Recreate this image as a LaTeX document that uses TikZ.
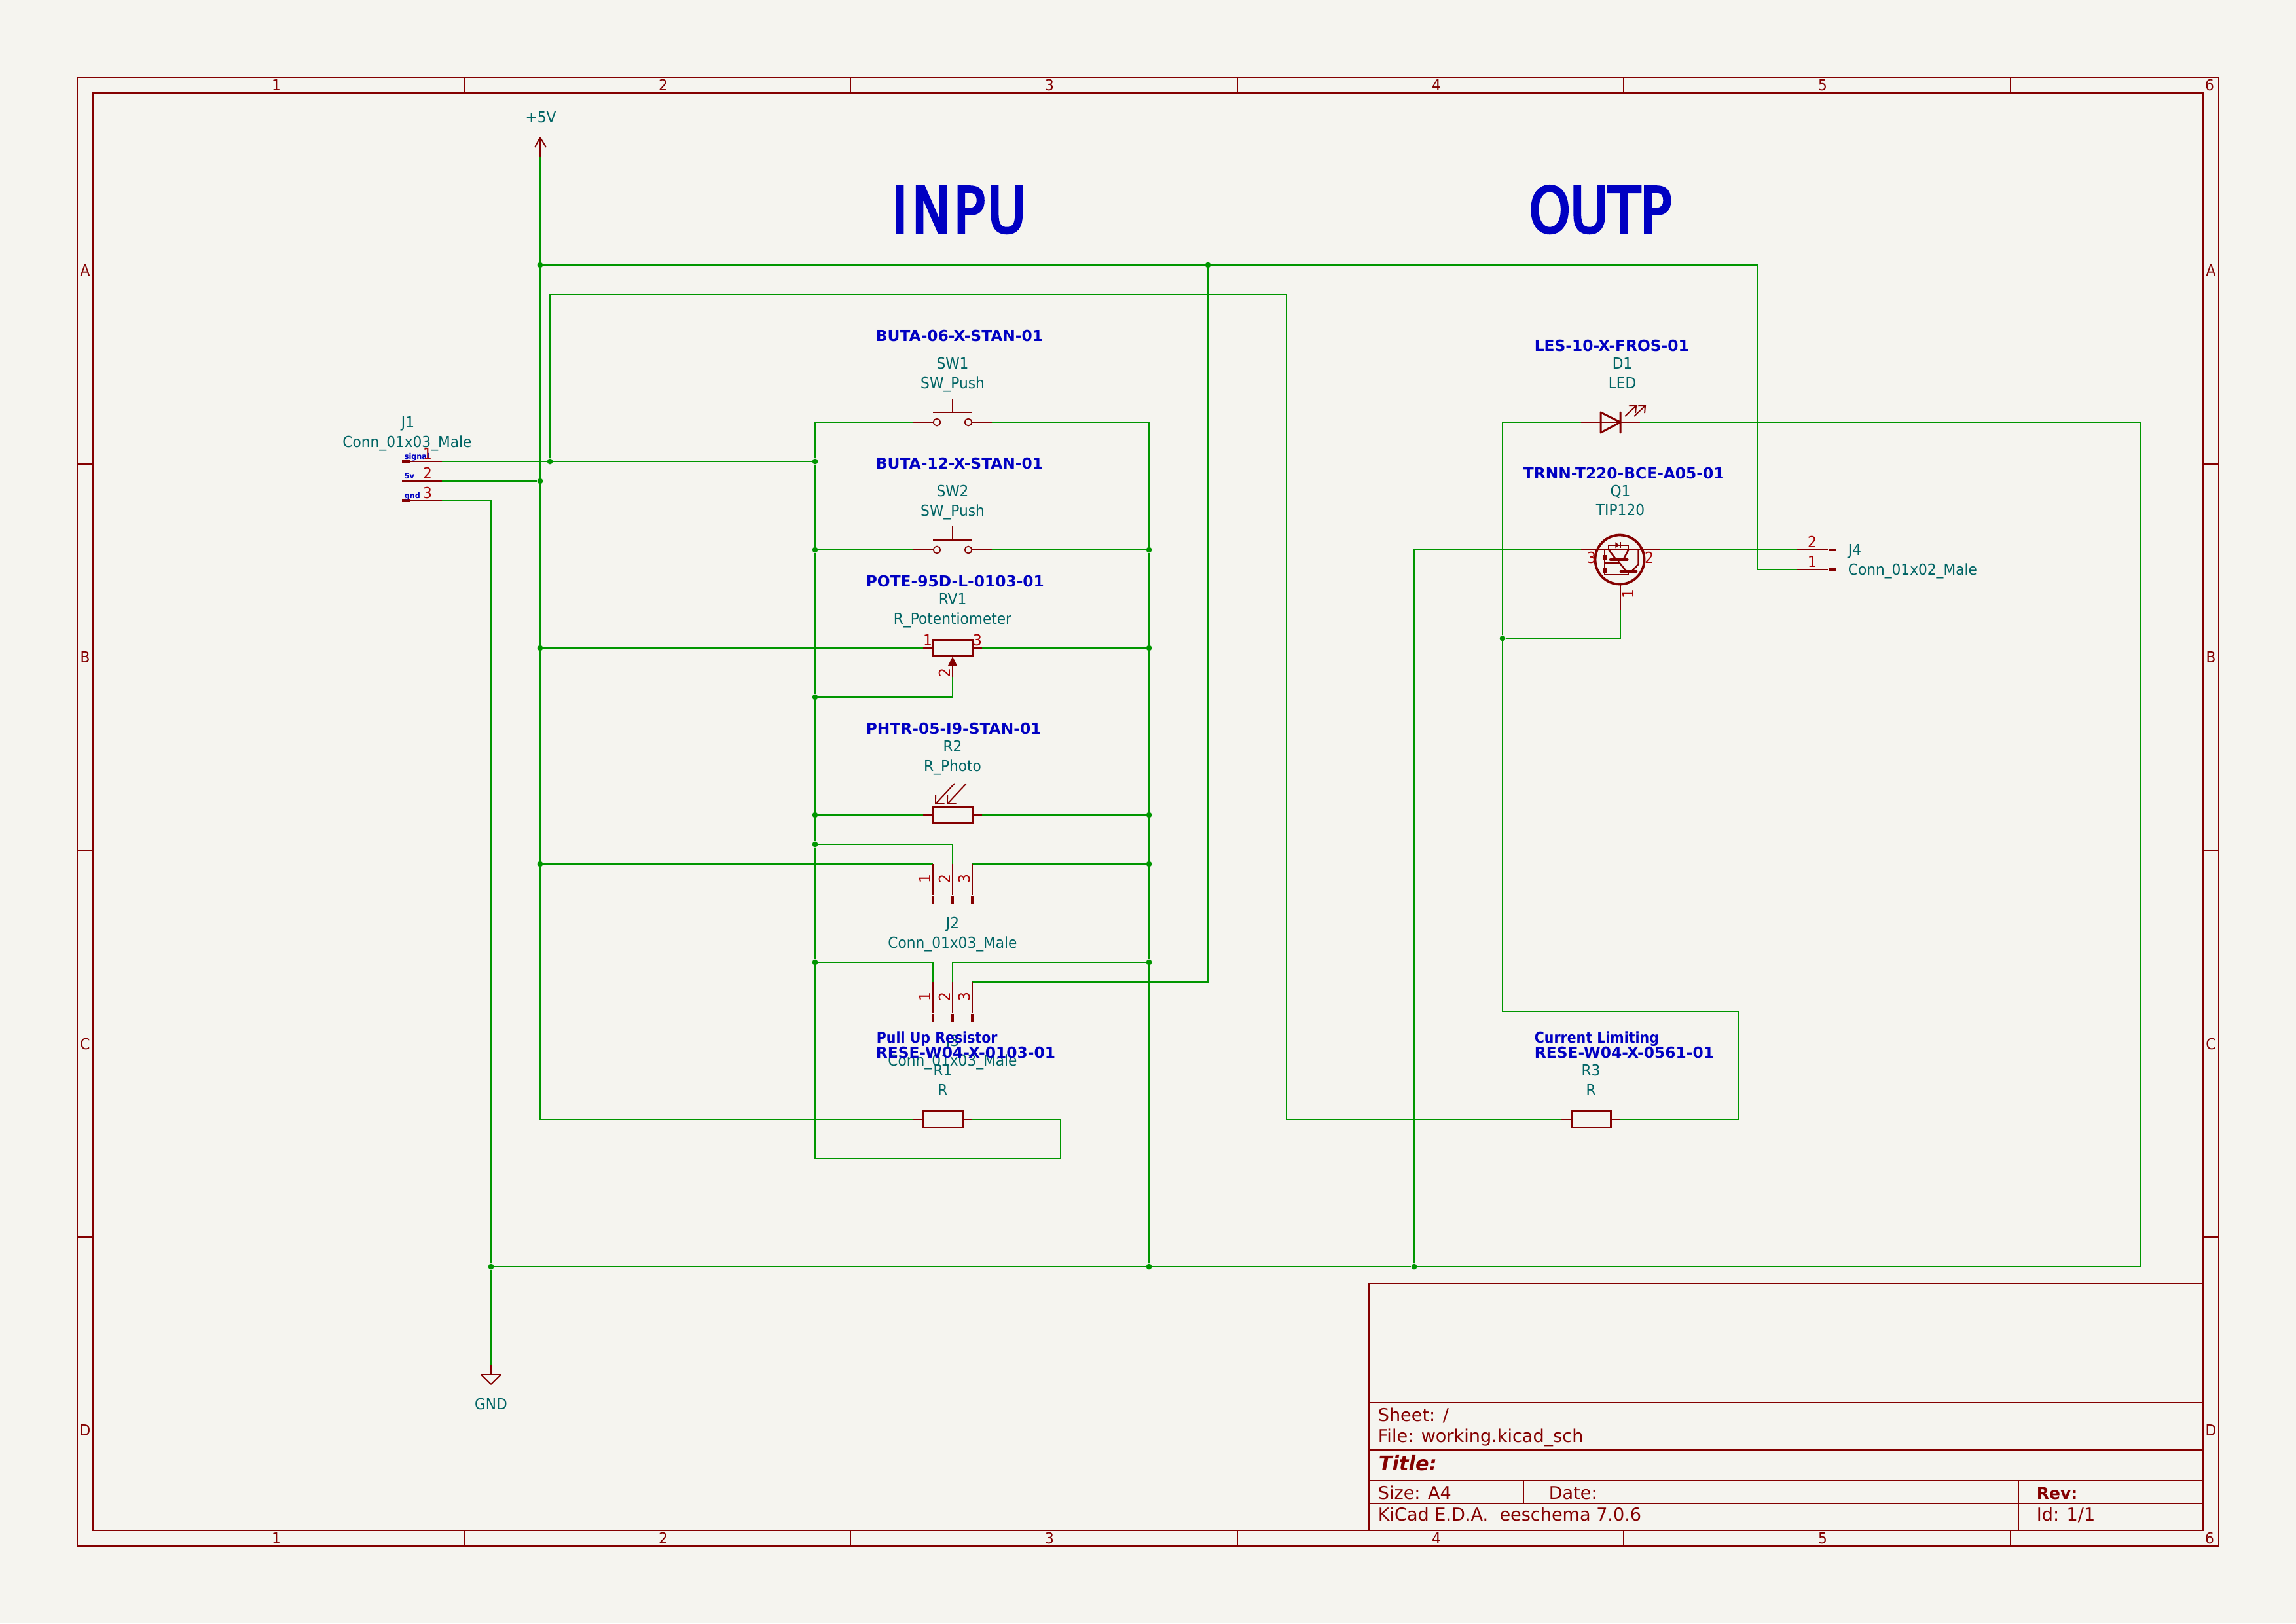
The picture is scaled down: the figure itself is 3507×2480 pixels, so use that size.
\documentclass[tikz,border=0pt]{standalone}
\usepackage{fontspec}
\setmainfont{DejaVu Sans}
\newfontfamily\reffont[FakeStretch=0.93]{DejaVu Sans}
\newfontfamily\notefont[FakeStretch=0.88]{DejaVu Sans}
\newfontfamily\headfont[FakeStretch=0.83,FakeBold=4]{DejaVu Sans}
\usepackage{xcolor}
\usetikzlibrary{arrows.meta, positioning}
\definecolor{sheetcol}{HTML}{F5F4EF}
\definecolor{wirecol}{HTML}{009600}
\definecolor{symbcol}{HTML}{840000}
\definecolor{pinnumcol}{HTML}{A90000}
\definecolor{refcol}{HTML}{006464}
\definecolor{notecol}{HTML}{0000C2}
\tikzset{
    wire/.style={draw=wirecol, line width=0.62pt},
    pinline/.style={draw=symbcol, line width=0.45pt},
    symb/.style={draw=symbcol, line width=0.72pt, line join=round, line cap=round},
    symbthin/.style={draw=symbcol, line width=0.45pt, line join=round},
    frameline/.style={draw=symbcol, line width=0.6pt},
    framethin/.style={draw=symbcol, line width=0.4pt},
    dot/.style={circle, fill=wirecol, inner sep=0pt, minimum size=2.1pt},
    resbox/.style={draw=symbcol, line width=0.72pt, fill=sheetcol, inner sep=0pt, minimum width=14.4pt, minimum height=5.9pt},
    swdot/.style={circle, draw=symbcol, line width=0.42pt, inner sep=0pt, minimum size=2.6pt},
    hbody/.style={fill=symbcol, inner sep=0pt, minimum width=2.8pt, minimum height=1.1pt},
    vbody/.style={fill=symbcol, inner sep=0pt, minimum width=1.1pt, minimum height=2.8pt},
    reflbl/.style={text=refcol, inner sep=0pt, text height=4pt, text depth=0pt, font=\fontsize{5.6}{6}\reffont},
    fieldlbl/.style={text=notecol, inner sep=0pt, anchor=west, text height=4pt, text depth=0pt, font=\fontsize{5.6}{6}\selectfont\bfseries},
    notelbl/.style={text=notecol, inner sep=0pt, anchor=west, text height=4pt, text depth=0pt, font=\fontsize{5.6}{6}\notefont\bfseries},
    netlbl/.style={text=notecol, inner sep=0pt, anchor=west, text height=2.3pt, text depth=0pt, font=\fontsize{2.9}{4}\reffont\bfseries},
    pinnum/.style={text=pinnumcol, inner sep=0pt, text height=4pt, text depth=0pt, font=\fontsize{5.6}{6}\reffont},
    bordernum/.style={text=symbcol, inner sep=0pt, text height=4pt, text depth=0pt, font=\fontsize{5.6}{6}\reffont},
    blocklbl/.style={text=symbcol, inner sep=0pt, anchor=west, text height=4.7pt, text depth=0pt, font=\fontsize{6.5}{7}\selectfont},
    blockbold/.style={text=symbcol, inner sep=0pt, anchor=west, text height=4.7pt, text depth=0pt, font=\fontsize{6}{7}\selectfont\bfseries},
    headlbl/.style={text=notecol, inner sep=0pt, anchor=west, text height=16.8pt, text depth=0pt, font=\fontsize{23}{25}\headfont}
}
\begin{document}
\begin{tikzpicture}[x=0.24pt, y=-0.24pt]
    \fill[sheetcol] (0, 0) rectangle (3507, 2480);
    \useasboundingbox (0, 0) rectangle (3507, 2480);

    \draw[frameline] (118, 118) rectangle (3389, 2362);
    \draw[frameline] (142, 142) rectangle (3365, 2338);
    \draw[framethin]
    (709, 118) -- (709, 142) (1299, 118) -- (1299, 142) (1890, 118) -- (1890, 142)
    (2480, 118) -- (2480, 142) (3071, 118) -- (3071, 142)
    (709, 2338) -- (709, 2362) (1299, 2338) -- (1299, 2362) (1890, 2338) -- (1890, 2362)
    (2480, 2338) -- (2480, 2362) (3071, 2338) -- (3071, 2362)
    (118, 709) -- (142, 709) (118, 1299) -- (142, 1299) (118, 1890) -- (142, 1890)
    (3365, 709) -- (3389, 709) (3365, 1299) -- (3389, 1299) (3365, 1890) -- (3389, 1890);
    \node[bordernum] (topa) at (422, 130) {1};
    \node[bordernum] (topb) at (1013, 130) {2};
    \node[bordernum] (topc) at (1603, 130) {3};
    \node[bordernum] (topd) at (2194, 130) {4};
    \node[bordernum] (tope) at (2784, 130) {5};
    \node[bordernum] (topf) at (3375, 130) {6};
    \node[bordernum] (bota) at (422, 2350) {1};
    \node[bordernum] (botb) at (1013, 2350) {2};
    \node[bordernum] (botc) at (1603, 2350) {3};
    \node[bordernum] (botd) at (2194, 2350) {4};
    \node[bordernum] (bote) at (2784, 2350) {5};
    \node[bordernum] (botf) at (3375, 2350) {6};
    \node[bordernum] (lefta) at (130, 413) {A};
    \node[bordernum] (leftb) at (130, 1004) {B};
    \node[bordernum] (leftc) at (130, 1595) {C};
    \node[bordernum] (leftd) at (130, 2185) {D};
    \node[bordernum] (righta) at (3377, 413) {A};
    \node[bordernum] (rightb) at (3377, 1004) {B};
    \node[bordernum] (rightc) at (3377, 1595) {C};
    \node[bordernum] (rightd) at (3377, 2185) {D};

    \draw[frameline]
    (2091, 2338) -- (2091, 1961) -- (3365, 1961)
    (2091, 2143) -- (3365, 2143)
    (2091, 2215) -- (3365, 2215)
    (2091, 2262) -- (3365, 2262)
    (2091, 2297) -- (3365, 2297);
    \draw[framethin] (2327, 2262) -- (2327, 2297) (3083, 2262) -- (3083, 2338);
    \node[blocklbl] (sheetname) at (2104, 2162) {Sheet: /};
    \node[blocklbl] (filename) at (2104, 2194) {File: working.kicad\_sch};
    \node[blockbold, font=\fontsize{7.3}{9}\selectfont\bfseries\itshape, text height=5.4pt] (titlename) at (2105, 2235) {Title:};
    \node[blocklbl] (sizename) at (2104, 2281) {Size: A4};
    \node[blocklbl] (datename) at (2365, 2281) {Date:};
    \node[blockbold] (revname) at (3110, 2281) {Rev:};
    \node[blocklbl] (toolname) at (2104, 2314) {KiCad E.D.A.\ \ eeschema 7.0.6};
    \node[blocklbl] (idname) at (3110, 2314) {Id: 1/1};

    \node[headlbl] (inpu) at (1362, 320) {I\kern1.6pt N\kern1pt P\kern1pt U};
    \node[headlbl] (outp) at (2335, 320) {OUTP};

    \node[dot] (jvtop) at (825, 405) {};
    \node[dot] (jvb) at (825, 735) {};
    \node[dot] (jvc) at (825, 990) {};
    \node[dot] (jvd) at (825, 1320) {};
    \node[dot] (jsig) at (840, 705) {};
    \node[dot] (jla) at (1245, 705) {};
    \node[dot] (jlb) at (1245, 840) {};
    \node[dot] (jlc) at (1245, 1065) {};
    \node[dot] (jld) at (1245, 1245) {};
    \node[dot] (jle) at (1245, 1290) {};
    \node[dot] (jlf) at (1245, 1470) {};
    \node[dot] (jra) at (1755, 840) {};
    \node[dot] (jrb) at (1755, 990) {};
    \node[dot] (jrc) at (1755, 1245) {};
    \node[dot] (jrd) at (1755, 1320) {};
    \node[dot] (jre) at (1755, 1470) {};
    \node[dot] (jrf) at (1755, 1935) {};
    \node[dot] (jtop) at (1845, 405) {};
    \node[dot] (jgnd) at (750, 1935) {};
    \node[dot] (jq) at (2160, 1935) {};
    \node[dot] (jdq) at (2295, 975) {};

    \coordinate (pwr) at (825, 240);
    \coordinate (pwrtip) at (825, 210);
    \coordinate (gnd) at (750, 2085);
    \coordinate (gndtop) at (750, 2100);
    \coordinate (jap) at (675, 705);
    \coordinate (jbp) at (675, 735);
    \coordinate (jcp) at (675, 765);
    \coordinate (sig) at (840, 450);
    \coordinate (sigb) at (1965, 1710);
    \coordinate (sga) at (1395, 645);
    \coordinate (sgb) at (1515, 645);
    \coordinate (sha) at (1395, 840);
    \coordinate (shb) at (1515, 840);
    \coordinate (rva) at (1410, 990);
    \coordinate (rvb) at (1500, 990);
    \coordinate (rvc) at (1455, 1035);
    \coordinate (rpa) at (1410, 1245);
    \coordinate (rpb) at (1500, 1245);
    \coordinate (raa) at (1395, 1710);
    \coordinate (rab) at (1485, 1710);
    \coordinate (rca) at (2385, 1710);
    \coordinate (rcb) at (2475, 1710);
    \coordinate (ja) at (1425, 1320);
    \coordinate (jb) at (1455, 1320);
    \coordinate (jc) at (1485, 1320);
    \coordinate (ka) at (1425, 1500);
    \coordinate (kb) at (1455, 1500);
    \coordinate (kc) at (1485, 1500);
    \coordinate (loopl) at (1245, 1770);
    \coordinate (loopr) at (1620, 1710);
    \coordinate (da) at (2415, 645);
    \coordinate (db) at (2505, 645);
    \coordinate (qa) at (2415, 840);
    \coordinate (qb) at (2535, 840);
    \coordinate (qc) at (2475, 932);
    \coordinate (lb) at (2745, 840);
    \coordinate (la) at (2745, 870);
    \coordinate (lbk) at (2685, 870);
    \coordinate (gndr) at (3270, 645);
    \coordinate (dcl) at (2295, 1545);
    \coordinate (dcr) at (2655, 1710);

    \draw[wire] (pwr) -- (jvtop) -- (jvb) -- (jvc) -- (jvd) |- (raa);
    \draw[wire] (jvtop) -- (jtop) -| (lbk) -- (la);
    \draw[wire] (jtop) |- (kc);
    \draw[wire] (jsig) -- (sig) -| (sigb) -- (rca);
    \draw[wire] (jap) -- (jsig) -- (jla);
    \draw[wire] (jbp) -- (jvb);
    \draw[wire] (jcp) -| (jgnd) -- (gnd);
    \draw[wire] (jgnd) -- (jrf) -- (jq) -| (gndr) -- (db);
    \draw[wire] (jq) |- (qa);
    \draw[wire] (qb) -- (lb);
    \draw[wire] (qc) |- (jdq);
    \draw[wire] (da) -| (jdq) -- (dcl) -| (dcr) -- (rcb);
    \draw[wire] (sga) -| (jla) -- (jlb) -- (jlc) -- (jld) -- (jle) -- (jlf) -- (loopl) -| (loopr) -- (rab);
    \draw[wire] (sgb) -| (jra) -- (jrb) -- (jrc) -- (jrd) -- (jre) -- (jrf);
    \draw[wire] (sha) -- (jlb);
    \draw[wire] (shb) -- (jra);
    \draw[wire] (jvc) -- (rva);
    \draw[wire] (rvb) -- (jrb);
    \draw[wire] (rvc) |- (jlc);
    \draw[wire] (jld) -- (rpa);
    \draw[wire] (rpb) -- (jrc);
    \draw[wire] (jle) -| (jb);
    \draw[wire] (jvd) -- (ja);
    \draw[wire] (jc) -- (jrd);
    \draw[wire] (jlf) -| (ka);
    \draw[wire] (jre) -| (kb);

    \draw[pinline] (pwr) -- (pwrtip);
    \draw[symbthin] (817, 225) -- (pwrtip) -- (834, 225);
    \node[reflbl] (pwrname) at (826, 179) {+5V};
    \draw[pinline] (gnd) -- (gndtop);
    \draw[symbthin] (735, 2100) -- (765, 2100) -- (750, 2115) -- cycle;
    \node[reflbl] (gndname) at (750, 2145) {GND};

    \node[hbody] (bodya) at (620, 705) {};
    \node[hbody] (bodyb) at (620, 735) {};
    \node[hbody] (bodyc) at (620, 765) {};
    \draw[pinline] (bodya) -- (jap);
    \draw[pinline] (bodyb) -- (jbp);
    \draw[pinline] (bodyc) -- (jcp);
    \node[reflbl] (conname) at (623, 645) {J1};
    \node[reflbl] (convalue) at (622, 675) {Conn\_01x03\_Male};
    \node[netlbl] (netsig) at (617, 697) {signal};
    \node[netlbl] (netv) at (617, 727) {5v};
    \node[netlbl] (netg) at (617, 757) {gnd};
    \node[pinnum] (numa) at (653, 693) {1};
    \node[pinnum] (numb) at (653, 723) {2};
    \node[pinnum] (numc) at (653, 753) {3};

    \node[swdot] (sgl) at (1431, 645) {};
    \node[swdot] (sgr) at (1479, 645) {};
    \draw[pinline] (sga) -- (sgl);
    \draw[pinline] (sgr) -- (sgb);
    \draw[symbthin] (1425, 630) -- (1485, 630) (1455, 630) -- (1455, 609);
    \node[fieldlbl] (sgpart) at (1337, 513) {BUTA-06-X-STAN-01};
    \node[reflbl] (sgref) at (1455, 555) {SW1};
    \node[reflbl] (sgvalue) at (1455, 585) {SW\_Push};

    \node[swdot] (shl) at (1431, 840) {};
    \node[swdot] (shr) at (1479, 840) {};
    \draw[pinline] (sha) -- (shl);
    \draw[pinline] (shr) -- (shb);
    \draw[symbthin] (1425, 825) -- (1485, 825) (1455, 825) -- (1455, 804);
    \node[fieldlbl] (shpart) at (1337, 708) {BUTA-12-X-STAN-01};
    \node[reflbl] (shref) at (1455, 750) {SW2};
    \node[reflbl] (shvalue) at (1455, 780) {SW\_Push};

    \node[resbox] (rv) at (1455, 990) {};
    \draw[pinline] (rva) -- (rv);
    \draw[pinline] (rv) -- (rvb);
    \draw[pinline] (rvc) -- (1455, 1017);
    \fill[symbcol] (1455, 1003) -- (1462, 1017) -- (1448, 1017) -- cycle;
    \node[fieldlbl] (rvpart) at (1322, 888) {POTE-95D-L-0103-01};
    \node[reflbl] (rvref) at (1455, 915) {RV1};
    \node[reflbl] (rvvalue) at (1455, 945) {R\_Potentiometer};
    \node[pinnum] (rvnuma) at (1417, 978) {1};
    \node[pinnum] (rvnumc) at (1493, 978) {3};
    \node[pinnum, rotate=90] (rvnumb) at (1443, 1028) {2};

    \node[resbox] (rp) at (1455, 1245) {};
    \draw[pinline] (rpa) -- (rp);
    \draw[pinline] (rp) -- (rpb);
    \draw[symbthin, -{Straight Barb[length=2.4pt, width=4.4pt]}] (1458, 1197) -- (1428, 1229);
    \draw[symbthin, -{Straight Barb[length=2.4pt, width=4.4pt]}] (1476, 1197) -- (1446, 1229);
    \node[fieldlbl] (rppart) at (1322, 1113) {PHTR-05-I9-STAN-01};
    \node[reflbl] (rpref) at (1455, 1140) {R2};
    \node[reflbl] (rpvalue) at (1455, 1170) {R\_Photo};

    \node[vbody] (bja) at (1425, 1375) {};
    \node[vbody] (bjb) at (1455, 1375) {};
    \node[vbody] (bjc) at (1485, 1375) {};
    \draw[pinline] (ja) -- (bja);
    \draw[pinline] (jb) -- (bjb);
    \draw[pinline] (jc) -- (bjc);
    \node[pinnum, rotate=90] (janum) at (1413, 1343) {1};
    \node[pinnum, rotate=90] (jbnum) at (1443, 1343) {2};
    \node[pinnum, rotate=90] (jcnum) at (1473, 1343) {3};
    \node[reflbl] (jref) at (1455, 1410) {J2};
    \node[reflbl] (jvalue) at (1455, 1440) {Conn\_01x03\_Male};

    \node[vbody] (bka) at (1425, 1555) {};
    \node[vbody] (bkb) at (1455, 1555) {};
    \node[vbody] (bkc) at (1485, 1555) {};
    \draw[pinline] (ka) -- (bka);
    \draw[pinline] (kb) -- (bkb);
    \draw[pinline] (kc) -- (bkc);
    \node[pinnum, rotate=90] (kanum) at (1413, 1523) {1};
    \node[pinnum, rotate=90] (kbnum) at (1443, 1523) {2};
    \node[pinnum, rotate=90] (kcnum) at (1473, 1523) {3};
    \node[reflbl] (kref) at (1455, 1590) {J3};
    \node[reflbl] (kvalue) at (1455, 1620) {Conn\_01x03\_Male};

    \node[resbox] (ra) at (1440, 1710) {};
    \draw[pinline] (raa) -- (ra);
    \draw[pinline] (ra) -- (rab);
    \node[notelbl] (ranote) at (1338, 1585) {Pull Up Resistor};
    \node[fieldlbl] (rapart) at (1337, 1608) {RESE-W04-X-0103-01};
    \node[reflbl] (raref) at (1440, 1635) {R1};
    \node[reflbl] (ravalue) at (1440, 1665) {R};

    \node[resbox] (rc) at (2430, 1710) {};
    \draw[pinline] (rca) -- (rc);
    \draw[pinline] (rc) -- (rcb);
    \node[notelbl] (rcnote) at (2343, 1585) {Current Limiting};
    \node[fieldlbl] (rcpart) at (2343, 1608) {RESE-W04-X-0561-01};
    \node[reflbl] (rcref) at (2430, 1635) {R3};
    \node[reflbl] (rcvalue) at (2430, 1665) {R};

    \draw[pinline] (da) -- (db);
    \draw[symb] (2445, 630) -- (2445, 661) -- (2475, 645) -- cycle (2475, 630) -- (2475, 661);
    \draw[symbthin, -{Straight Barb[length=2pt, width=3.6pt]}] (2482, 636) -- (2500, 619);
    \draw[symbthin, -{Straight Barb[length=2pt, width=3.6pt]}] (2496, 636) -- (2514, 619);
    \node[fieldlbl] (dpart) at (2343, 528) {LES-10-X-FROS-01};
    \node[reflbl] (dref) at (2478, 555) {D1};
    \node[reflbl] (dvalue) at (2478, 585) {LED};

    \node[circle, draw=symbcol, line width=0.9pt, inner sep=0pt, minimum size=18pt] (q) at (2474, 855) {};
    \draw[pinline] (qa) -- (qb);
    \draw[pinline] (qc) -- (2475, 891);
    \begin{scope}[shift={(2410, 800)}, x=0.08pt, y=-0.08pt]
        \draw[symbthin] (140, 118) -- (140, 100) -- (230, 100) -- (230, 118);
        \fill[symbcol] (172, 85) -- (190, 98) -- (172, 112) -- cycle;
        \draw[symbthin] (195, 85) -- (195, 112);
        \draw[symbthin, line width=0.6pt] (140, 118) -- (172, 160);
        \draw[symbthin, line width=0.6pt] (232, 120) -- (208, 165);
        \draw[symb, line width=1.1pt] (150, 165) -- (226, 165);
        \draw[symbthin, line width=0.6pt] (185, 172) -- (222, 218);
        \draw[symbthin, line width=0.6pt] (248, 218) -- (278, 185) -- (278, 120);
        \draw[symb, line width=1pt] (197, 218) -- (268, 218);
        \draw[symbthin] (123, 118) -- (123, 235) -- (230, 235) -- (230, 222) (123, 180) -- (190, 180);
        \fill[symbcol] (115, 143) rectangle (133, 167);
        \fill[symbcol] (115, 203) rectangle (133, 227);
    \end{scope}
    \node[fieldlbl] (qpart) at (2326, 723) {TRNN-T220-BCE-A05-01};
    \node[reflbl] (qref) at (2475, 750) {Q1};
    \node[reflbl] (qvalue) at (2475, 779) {TIP120};
    \node[pinnum] (qnumc) at (2431, 852) {3};
    \node[pinnum] (qnumb) at (2519, 852) {2};
    \node[pinnum, rotate=90] (qnuma) at (2487, 908) {1};

    \node[hbody] (bla) at (2799, 840) {};
    \node[hbody] (blb) at (2799, 870) {};
    \draw[pinline] (lb) -- (bla);
    \draw[pinline] (la) -- (blb);
    \node[pinnum] (lnumb) at (2768, 828) {2};
    \node[pinnum] (lnuma) at (2768, 858) {1};
    \node[reflbl, anchor=west] (lref) at (2822, 840) {J4};
    \node[reflbl, anchor=west] (lvalue) at (2822, 870) {Conn\_01x02\_Male};
\end{tikzpicture}
\end{document}
